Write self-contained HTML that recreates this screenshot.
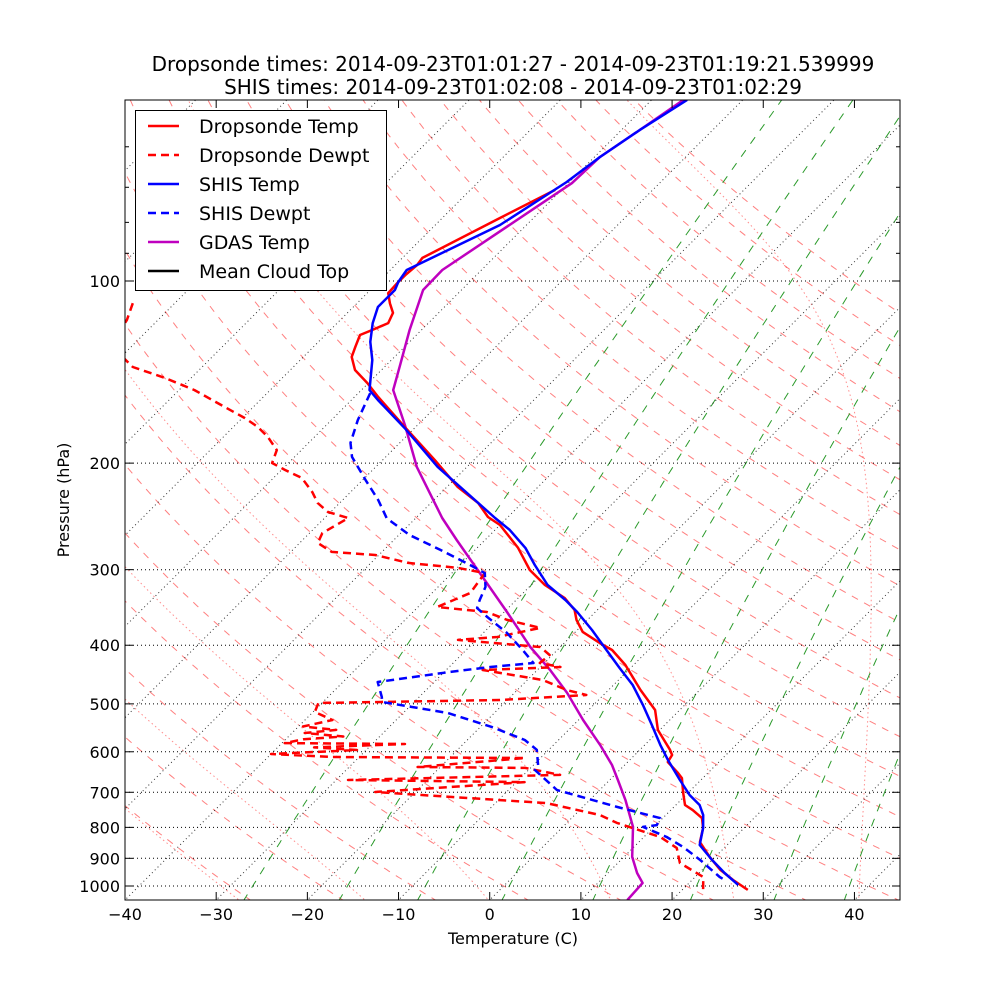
<!DOCTYPE html>
<html><head><meta charset="utf-8"><style>
html,body{margin:0;padding:0;background:#fff;}
svg{display:block;font-family:"DejaVu Sans","Liberation Sans",sans-serif;}
</style></head><body>
<svg id="chart" width="1000" height="1000" viewBox="0 0 1000 1000" xmlns="http://www.w3.org/2000/svg">
<rect width="1000" height="1000" fill="#fff"/>
<defs><clipPath id="plotclip"><rect x="125" y="100" width="775" height="800"/></clipPath></defs>
<text x="513" y="71" font-size="20" text-anchor="middle">Dropsonde times: 2014-09-23T01:01:27 - 2014-09-23T01:19:21.539999</text>
<text x="513" y="94" font-size="20" text-anchor="middle">SHIS times: 2014-09-23T01:02:08 - 2014-09-23T01:02:29</text>
<g id="bg" clip-path="url(#plotclip)"></g>
<g id="grid" clip-path="url(#plotclip)"></g>
<g id="series" clip-path="url(#plotclip)"></g>
<rect x="125" y="100" width="775" height="800" fill="none" stroke="#000" stroke-width="1"/>
<g id="axes"></g>
<text x="513" y="944" font-size="16" text-anchor="middle">Temperature (C)</text>
<text transform="translate(69,500) rotate(-90)" font-size="16" text-anchor="middle">Pressure (hPa)</text>
<g id="legend"></g>
</svg>
<script>
// ---- data ----
const dropP = [70.7,78.7,91.6,94.1,97.8,100.4,104.7,108.8,112.9,117.4,120.5,122.8,128.5,133.5,140.3,147.5,155.5,174.3,197.6,219,232.8,245.5,253.1,276.2,300.4,318,334.2,349.8,363.2,380.2,396.7,407.3,431.2,474.2,511.8,552.2,595.6,607.5,623.9,650.2,663.1,702.2,734.8,749,772.2,801.9,846,895.3,940.6,977.5,1015];
const dropT = [-70.7,-73.7,-77.8,-77.6,-77.8,-77.8,-77.7,-76.4,-75.0,-74.4,-75.4,-76.2,-75.4,-74.7,-72.9,-70.1,-67.4,-61.2,-54.3,-48.8,-44.8,-42.2,-40,-35.5,-31.8,-28.5,-24.9,-22.5,-21.2,-19.2,-16.1,-14.0,-10.9,-6.5,-2.7,-0.2,3.3,4.1,4.4,6.7,7.7,9.5,11.0,12.4,14.3,15.5,16.7,19.4,22.0,24.5,27.2];
const dropDP = [108.8,116,127.5,138.7,144.6,151.5,161.6,168.5,174.3,181.1,190.3,199.9,205.3,211.6,223.3,232.8,240.9,246.5,261,271.1,280.4,283.7,292.4,298,303.9,327.9,345.8,352.4,363.2,374.5,387.6,392,402.7,415.1,427.9,434.6,439.6,456.6,474.2,483.3,492.6,498.3,515.7,531.6,545,552,558.7,566,572,580.4,582.4,590,596,605,612,614.3,635.7,638,655.3,668,673.5,699.3,729.4,763.4,786.6,829.9,865.1,916.2,966.3,1015];
const dropTd = [-104.6,-103.4,-102.5,-97.6,-92.9,-88.3,-83.1,-79.7,-77.3,-75.1,-72.7,-71.8,-69.6,-66.9,-64.2,-62.4,-60.3,-57.4,-58.6,-58.0,-55.5,-50.4,-45.9,-39.9,-36.4,-35.8,-37.9,-31.9,-28.8,-24.3,-28.0,-32.0,-22.2,-20.3,-20.5,-17.8,-26.0,-18.3,-14.6,-11.9,-20.8,-40.4,-39.8,-37.0,-39.5,-35.5,-38.6,-34.0,-38.0,-39.7,-26.4,-36.0,-31.0,-40.0,-33.0,-11.7,-22.5,-10.6,-6.0,-28.7,-9.1,-24.4,-4.4,2.8,5.5,11.8,14.8,16.8,20.9,22.3];
const shisP = [50.2,56.3,62.4,68.6,80.8,95.9,100.4,103.5,110.4,117.4,126.1,135.1,151.5,157.3,175,202.9,246.5,257.9,276.2,294.7,318,336.7,352.4,377.4,404.2,436.2,465.3,502,542,584.5,619.2,668,707.2,734.8,763.4,801.9,855.5,905.8,951.7,996];
const shisT = [-66.1,-68.0,-69.4,-70.3,-72.9,-78.2,-77.8,-77.3,-77.3,-76.1,-74.3,-72.1,-69.1,-67.1,-61.1,-53.2,-41.3,-38.4,-34.7,-31.8,-28.2,-24.6,-22.0,-18.4,-15.0,-11.2,-7.9,-4.6,-1.4,1.7,4.2,7.7,10.4,12.6,14.1,15.5,17.0,20.0,22.8,25.6];
const shisDP = [153.2,169.8,185.2,195.3,213.2,230.1,246.5,250.2,263,278.3,294.7,303.9,320.4,336.7,347.2,359.2,381.7,407.3,427.9,434.6,442.9,451.5,460,487.1,496.5,506.1,517.6,546.2,573.7,595.6,630.9,643.1,693.9,740.2,772.2,793,798.7,829.9,862,905.8,966.3,977.5];
const shisTd = [-68.7,-67.1,-65.4,-63.7,-59.7,-56.1,-53.2,-52.2,-48.8,-43.8,-38.9,-36.4,-34.8,-34.0,-33.4,-31.3,-27.4,-23.8,-21.2,-25.5,-29.4,-32.9,-36.2,-34.1,-33.5,-29.6,-25.1,-18.7,-13.7,-11.3,-9.5,-9.3,-4.7,3.8,9.7,10.1,8.8,12.5,15.4,18.7,22.7,23.6];
const gdasP = [50.2,56.3,62.4,68.9,95.9,103.5,120.5,137.7,151.5,173,202.9,246.5,268,308.5,352.4,402.7,439.6,479.8,531.6,584.5,630.9,668,720.5,798.7,895.3,951.7,988.6,1054.6];
const gdasT = [-66.5,-68.0,-69.4,-69.6,-74.3,-74.2,-71.3,-68.5,-66.5,-61.4,-55.5,-47.1,-43.1,-36.2,-29.7,-23.3,-18.6,-14.2,-9.5,-4.9,-1.4,0.9,3.9,7.7,10.9,13.2,14.9,15.1];
const xTicks = [-40,-30,-20,-10,0,10,20,30,40];
const yTickP = [100,200,300,400,500,600,700,800,900,1000];
const yMinorP = [60,70,80,90];
const mixRatios = [0.0004,0.001,0.002,0.004,0.008,0.016,0.028,0.044];
const moistT0 = [-31,-17,-3,11,25,39];
const isotherms = [];
for (let t=-160;t<=50;t+=10) isotherms.push(t);
const dryTheta = [];
for (let t=-30;t<=200;t+=10) dryTheta.push(t);

// ---- scales ----
const X0=125, YB=900, PXC=9.118;
function yP(p){return 886-605*Math.log10(1000/p);}
function xT(t,p){return X0+(t+40)*PXC+(YB-yP(p));}
const NS='http://www.w3.org/2000/svg';
function mk(tag,attrs,parent){const e=document.createElementNS(NS,tag);for(const k in attrs)e.setAttribute(k,attrs[k]);parent.appendChild(e);return e;}
function pathFrom(ps,ts){let d='';for(let i=0;i<ps.length;i++){d+=(i?'L':'M')+xT(ts[i],ps[i]).toFixed(1)+','+yP(ps[i]).toFixed(1);}return d;}
const bg=document.getElementById('bg'), grid=document.getElementById('grid'), ser=document.getElementById('series'), axes=document.getElementById('axes'), leg=document.getElementById('legend');
const plevs=[];for(let p=1060;p>=48;p-=4)plevs.push(p);

dryTheta.forEach(th=>{
  const ts=plevs.map(p=>(th+273.15)*Math.pow(p/1000,0.2857)-273.15);
  const e=mk('path',{d:pathFrom(plevs,ts),fill:'none',stroke:'rgba(255,0,0,0.5)','stroke-width':1,'stroke-dasharray':'7,7'},bg);
  
  
});
function moistLine(t0){
  const Rd=287,Cp=1005,Lv=2.501e6,eps=0.622;
  function dTdp(T,p){const es=6.112*Math.exp(17.67*(T-273.15)/(T-29.65));const rs=eps*es/Math.max(p-es,1);return (Rd*T+Lv*rs)/(p*(Cp+Lv*Lv*rs*eps/(Rd*T*T)));}
  const up=[],dn=[];let T=t0+273.15,p=1000;
  while(p>=48){up.push([p,T-273.15]);const h=-4;const k1=dTdp(T,p),k2=dTdp(T+h*k1/2,p+h/2);T+=h*k2;p+=h;}
  T=t0+273.15;p=1000;
  while(p<=1060){const h=4;const k1=dTdp(T,p),k2=dTdp(T+h*k1/2,p+h/2);T+=h*k2;p+=h;dn.push([p,T-273.15]);}
  const all=dn.reverse().concat(up);
  return [all.map(a=>a[0]),all.map(a=>a[1])];
}
moistT0.forEach(t0=>{
  const [ps,ts]=moistLine(t0);
  const e=mk('path',{d:pathFrom(ps,ts),fill:'none',stroke:'rgba(255,0,0,0.45)','stroke-width':1,'stroke-dasharray':'1.5,3'},bg);
  
  
});
mixRatios.forEach(w=>{
  const ts=plevs.map(p=>{const e=w*p/(0.622+w);const l=Math.log(e/6.112);return 243.5*l/(17.67-l);});
  const e=mk('path',{d:pathFrom(plevs,ts),fill:'none',stroke:'#2a9a2a','stroke-width':1,'stroke-dasharray':'8,8'},bg);
  
  
});
isotherms.forEach(t=>{
  const e=mk('path',{d:pathFrom([1060,48],[t,t]),fill:'none',stroke:'#000','stroke-width':1,'stroke-dasharray':'1,3','stroke-opacity':0.8},bg);
  
  
});
yTickP.forEach(p=>{
  const y=yP(p).toFixed(1);
  const e=mk('line',{x1:125,x2:900,y1:y,y2:y,stroke:'#000','stroke-width':1,'stroke-dasharray':'1,3'},grid);
  
  
});
function series(ps,ts,color,dash,name){
  const e=mk('path',{d:pathFrom(ps,ts),fill:'none',stroke:color,'stroke-width':2.5,'stroke-linejoin':'round'},ser);
  if(dash)e.setAttribute('stroke-dasharray','8,5');
  
  
}
series(gdasP,gdasT,'#bf00bf',false,'gdas-temp-line');
series(dropDP,dropTd,'#ff0000',true,'dropsonde-dewpt-line');
series(dropP,dropT,'#ff0000',false,'dropsonde-temp-line');
series(shisDP,shisTd,'#0000ff',true,'shis-dewpt-line');
series(shisP,shisT,'#0000ff',false,'shis-temp-line');
xTicks.forEach(t=>{
  const x=X0+(t+40)*PXC;
  let e=mk('line',{x1:x,x2:x,y1:900,y2:892,stroke:'#000'},axes);
  
  
  e=mk('line',{x1:x,x2:x,y1:100,y2:108,stroke:'#000'},axes);
  
  
  const tx=mk('text',{x:x,y:920,'font-size':16,'text-anchor':'middle'},axes);
  tx.textContent=(t<0?'\u2212'+(-t):''+t);
  
  
});
yTickP.forEach(p=>{
  const y=yP(p);
  let e=mk('line',{x1:125,x2:133,y1:y,y2:y,stroke:'#000'},axes);
  
  
  e=mk('line',{x1:900,x2:892,y1:y,y2:y,stroke:'#000'},axes);
  
  
  const tx=mk('text',{x:120,y:y+6,'font-size':16,'text-anchor':'end'},axes);
  tx.textContent=''+p;
  
  
});
yMinorP.forEach(p=>{
  const y=yP(p);
  let e=mk('line',{x1:125,x2:129,y1:y,y2:y,stroke:'#000'},axes);
  
  
  e=mk('line',{x1:900,x2:896,y1:y,y2:y,stroke:'#000'},axes);
  
  
});
const lb=mk('rect',{x:135.5,y:110.5,width:251,height:180,fill:'#fff',stroke:'#000','stroke-width':1},leg);


const legLabels=['Dropsonde Temp','Dropsonde Dewpt','SHIS Temp','SHIS Dewpt','GDAS Temp','Mean Cloud Top'];
const legColors=['#ff0000','#ff0000','#0000ff','#0000ff','#bf00bf','#000000'];
const legDash=[false,true,false,true,false,false];
legLabels.forEach((lab,i)=>{
  const y=126+i*29;
  const l=mk('line',{x1:148,x2:179,y1:y,y2:y,stroke:legColors[i],'stroke-width':2.5},leg);
  if(legDash[i])l.setAttribute('stroke-dasharray','8,5');
  
  
  const tx=mk('text',{x:199,y:y+7,'font-size':19},leg);
  tx.textContent=lab;
  
  
});
</script>
</body></html>
